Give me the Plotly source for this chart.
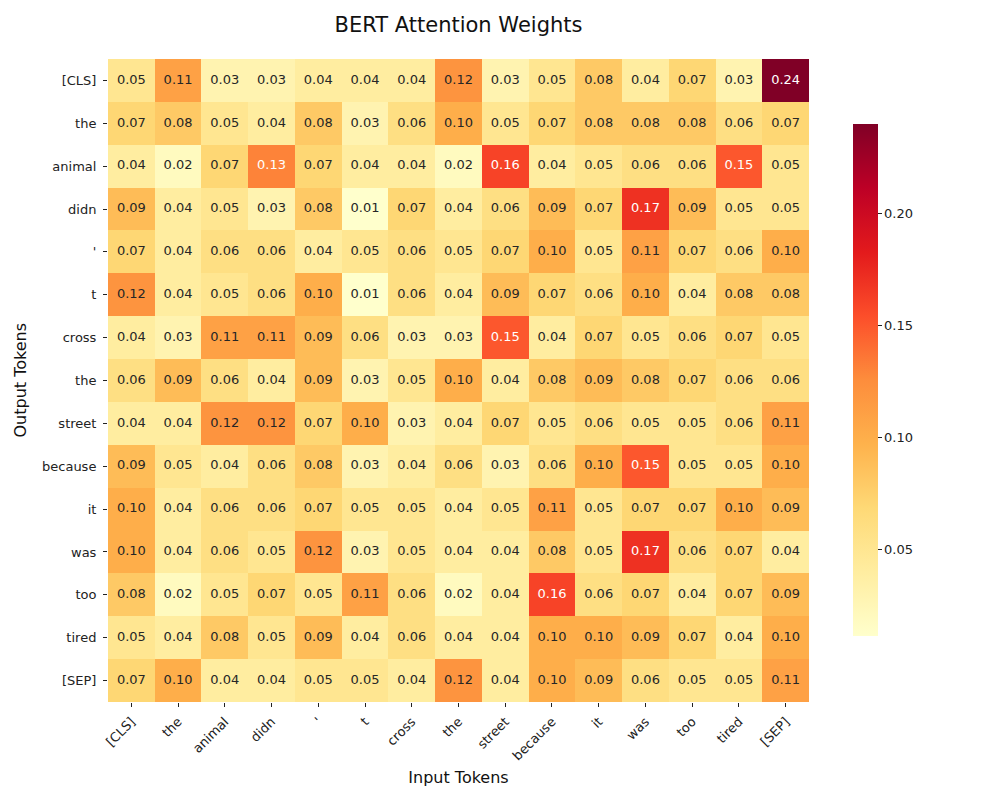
import plotly.graph_objects as go
import plotly.colors as pc

input_tokens = ["[CLS]", "the", "animal", "didn", "'", "t", "cross", "the", "street",
                "because", "it", "was", "too", "tired", "[SEP]"]
output_tokens = ["[CLS]", "the", "animal", "didn", "'", "t", "cross", "the", "street",
                 "because", "it", "was", "too", "tired", "[SEP]"]

weights = [
    [0.05, 0.11, 0.03, 0.03, 0.04, 0.04, 0.04, 0.12, 0.03, 0.05, 0.08, 0.04, 0.07, 0.03, 0.24],
    [0.07, 0.08, 0.05, 0.04, 0.08, 0.03, 0.06, 0.10, 0.05, 0.07, 0.08, 0.08, 0.08, 0.06, 0.07],
    [0.04, 0.02, 0.07, 0.13, 0.07, 0.04, 0.04, 0.02, 0.16, 0.04, 0.05, 0.06, 0.06, 0.15, 0.05],
    [0.09, 0.04, 0.05, 0.03, 0.08, 0.01, 0.07, 0.04, 0.06, 0.09, 0.07, 0.17, 0.09, 0.05, 0.05],
    [0.07, 0.04, 0.06, 0.06, 0.04, 0.05, 0.06, 0.05, 0.07, 0.10, 0.05, 0.11, 0.07, 0.06, 0.10],
    [0.12, 0.04, 0.05, 0.06, 0.10, 0.01, 0.06, 0.04, 0.09, 0.07, 0.06, 0.10, 0.04, 0.08, 0.08],
    [0.04, 0.03, 0.11, 0.11, 0.09, 0.06, 0.03, 0.03, 0.15, 0.04, 0.07, 0.05, 0.06, 0.07, 0.05],
    [0.06, 0.09, 0.06, 0.04, 0.09, 0.03, 0.05, 0.10, 0.04, 0.08, 0.09, 0.08, 0.07, 0.06, 0.06],
    [0.04, 0.04, 0.12, 0.12, 0.07, 0.10, 0.03, 0.04, 0.07, 0.05, 0.06, 0.05, 0.05, 0.06, 0.11],
    [0.09, 0.05, 0.04, 0.06, 0.08, 0.03, 0.04, 0.06, 0.03, 0.06, 0.10, 0.15, 0.05, 0.05, 0.10],
    [0.10, 0.04, 0.06, 0.06, 0.07, 0.05, 0.05, 0.04, 0.05, 0.11, 0.05, 0.07, 0.07, 0.10, 0.09],
    [0.10, 0.04, 0.06, 0.05, 0.12, 0.03, 0.05, 0.04, 0.04, 0.08, 0.05, 0.17, 0.06, 0.07, 0.04],
    [0.08, 0.02, 0.05, 0.07, 0.05, 0.11, 0.06, 0.02, 0.04, 0.16, 0.06, 0.07, 0.04, 0.07, 0.09],
    [0.05, 0.04, 0.08, 0.05, 0.09, 0.04, 0.06, 0.04, 0.04, 0.10, 0.10, 0.09, 0.07, 0.04, 0.10],
    [0.07, 0.10, 0.04, 0.04, 0.05, 0.05, 0.04, 0.12, 0.04, 0.10, 0.09, 0.06, 0.05, 0.05, 0.11],
]

colorbar_ticks = [0.05, 0.10, 0.15, 0.20]

FONT = "DejaVu Sans"
nx = len(input_tokens)
ny = len(output_tokens)
xs = list(range(nx))
ys = list(range(ny))

fig = go.Figure()
fig.add_trace(go.Heatmap(
    z=weights, x=xs, y=ys,
    colorscale=pc.sequential.YlOrRd,
    zmin=0.0116, zmax=0.2397,
    xgap=0, ygap=0,
    colorbar=dict(
        x=1.0628, xanchor="left", xref="paper",
        y=0.5008, yanchor="middle",
        len=0.796, lenmode="fraction",
        xpad=0, ypad=0,
        thickness=25, thicknessmode="pixels",
        outlinewidth=0,
        tickvals=colorbar_ticks,
        ticktext=[f"{v:.2f}" for v in colorbar_ticks],
        ticks="outside", ticklen=4, tickcolor="#222",
        tickfont=dict(family=FONT, size=13, color="#222"),
    ),
    hoverinfo="skip",
))

tx, ty, tt, tc = [], [], [], []
for i in range(ny):
    for j in range(nx):
        v = weights[i][j]
        tx.append(j)
        ty.append(i)
        tt.append(f"{v:.2f}")
        tc.append("white" if v > 0.125 else "#262626")

fig.add_trace(go.Scatter(
    x=tx, y=ty, mode="text", text=tt,
    textfont=dict(family=FONT, size=13, color=tc),
    hoverinfo="skip", showlegend=False,
))

fig.update_layout(
    width=1000, height=800,
    margin=dict(l=108, r=191, t=59, b=98),
    paper_bgcolor="white", plot_bgcolor="white",
    title=dict(text="BERT Attention Weights", x=0.5, xref="paper", xanchor="center",
               y=1 - 25 / 800, yref="container", yanchor="middle",
               font=dict(family=FONT, size=21, color="#111")),
    showlegend=False,
    xaxis=dict(
        range=[-0.5, nx - 0.5], tickvals=xs, ticktext=input_tokens,
        tickangle=-45, ticks="outside", ticklen=4, tickcolor="#222",
        ticklabelstandoff=2,
        tickfont=dict(family=FONT, size=13, color="#222"),
        showgrid=False, zeroline=False, showline=False,
        title=dict(text="Input Tokens", font=dict(family=FONT, size=16, color="#111"), standoff=9),
    ),
    yaxis=dict(
        range=[ny - 0.5, -0.5], tickvals=ys, ticktext=output_tokens,
        ticks="outside", ticklen=4, tickcolor="#222",
        ticklabelstandoff=4,
        tickfont=dict(family=FONT, size=13, color="#222"),
        showgrid=False, zeroline=False, showline=False,
    ),
    annotations=[dict(
        text="Output Tokens", textangle=-90,
        x=(20 - 108) / 701, xref="paper", xanchor="center",
        y=0.5, yref="paper", yanchor="middle",
        showarrow=False,
        font=dict(family=FONT, size=16, color="#111"),
    )],
)

fig.write_html("out.html")
